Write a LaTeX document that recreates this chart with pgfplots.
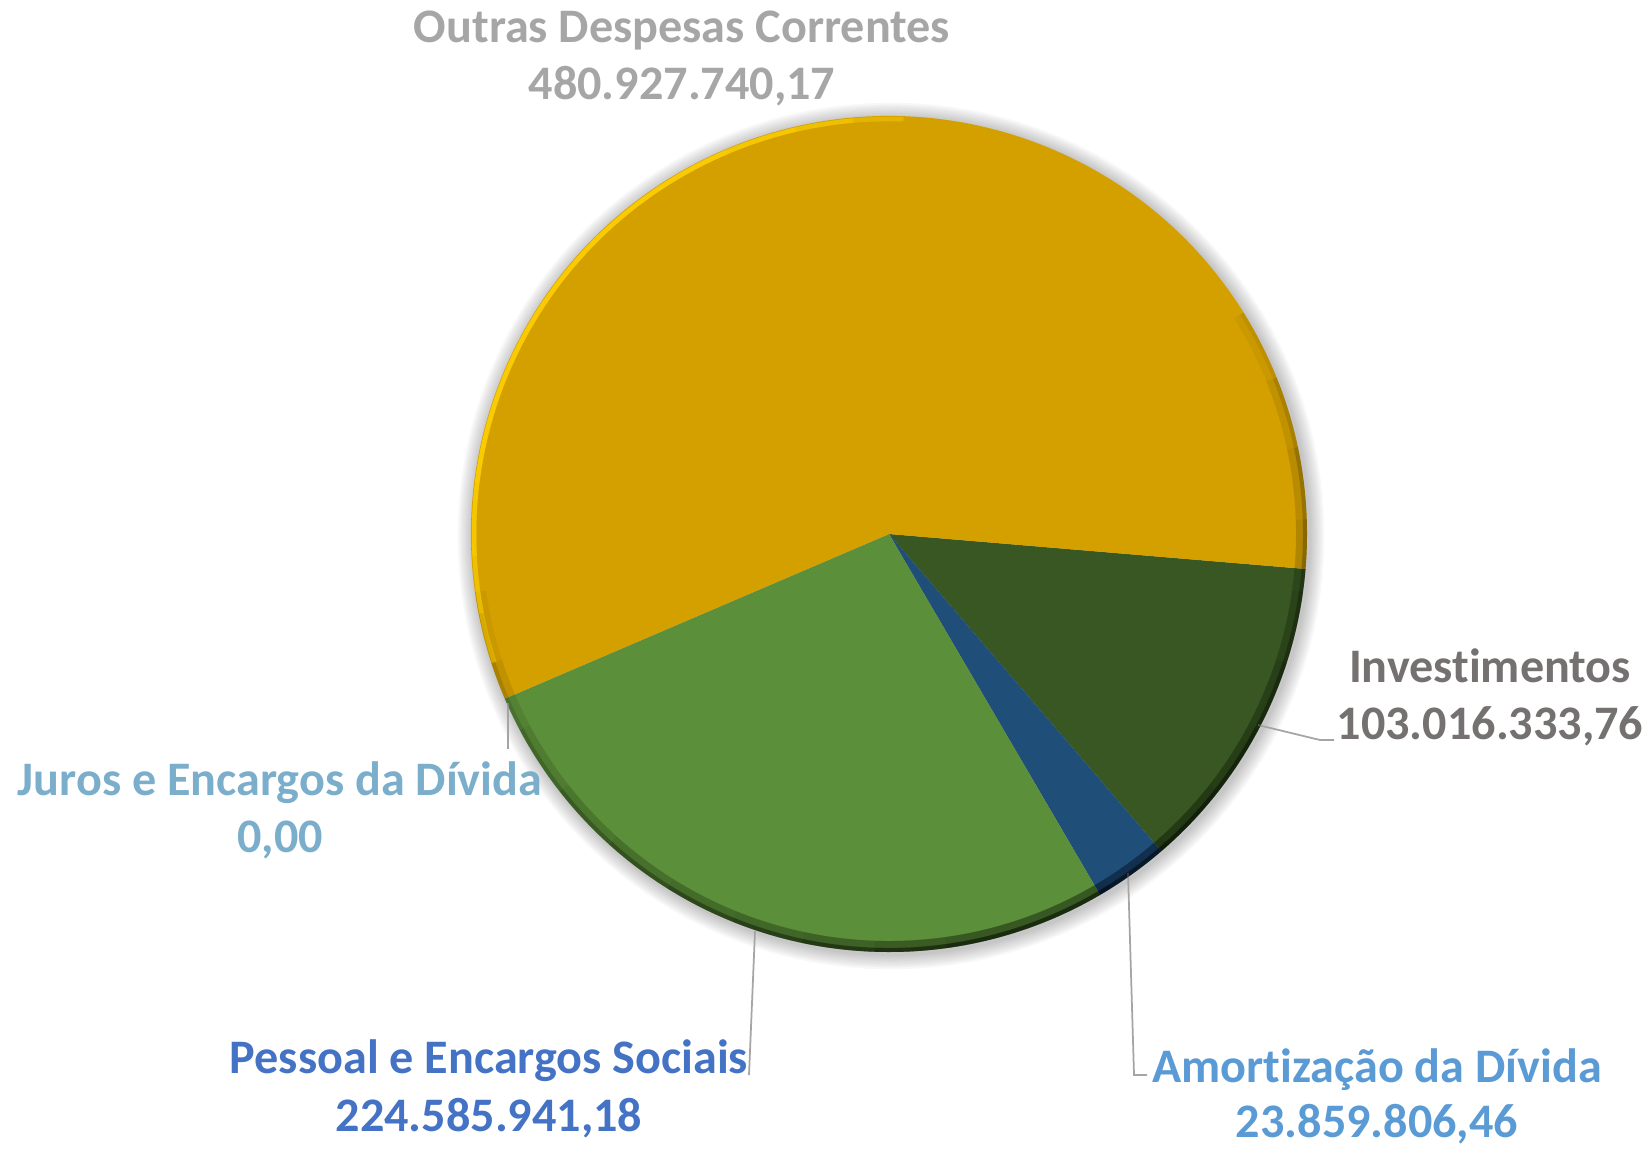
\documentclass[border=0pt]{standalone}
\usepackage{pgfplots}
\usepackage{pgfplotstable}
\pgfplotsset{compat=1.18}
\usepackage{fontspec}
\setmainfont{Carlito}[Ligatures=NoCommon]

\definecolor{cOut}{HTML}{D4A000}
\definecolor{cInv}{HTML}{385723}
\definecolor{cAmo}{HTML}{1F4E79}
\definecolor{cPes}{HTML}{5B8F3A}
\definecolor{cJur}{HTML}{7AAECB}
\definecolor{tOut}{HTML}{A6A6A6}
\definecolor{tInv}{HTML}{767171}
\definecolor{tJur}{HTML}{7AAECB}
\definecolor{tPes}{HTML}{4472C4}
\definecolor{tAmo}{HTML}{5B9BD5}
\definecolor{leader}{HTML}{A5A5A5}
\definecolor{hilite}{HTML}{FFD200}

\tikzset{lbl/.style={font=\fontsize{13.7}{16}\selectfont\bfseries, anchor=base}}

% slices in drawing order, clockwise from the Investimentos edge
\pgfplotstableread{
idx value color
0 103016333.76 cInv
1 23859806.46 cAmo
2 224585941.18 cPes
3 0.00 cJur
4 480927740.17 cOut
}\pietable

\pgfkeys{/pgf/fpu=true,/pgf/fpu/output format=fixed}
\gdef\tot{0}
\foreach \i in {0,...,4}{%
  \pgfplotstablegetelem{\i}{value}\of\pietable
  \pgfmathparse{\tot+\pgfplotsretval}\xdef\tot{\pgfmathresult}}
\gdef\acc{-4.8}
\foreach \i in {0,...,4}{%
  \pgfplotstablegetelem{\i}{value}\of\pietable
  \pgfmathparse{\acc-360*\pgfplotsretval/\tot}%
  \expandafter\xdef\csname sa\i\endcsname{\acc}%
  \expandafter\xdef\csname ea\i\endcsname{\pgfmathresult}%
  \xdef\acc{\pgfmathresult}%
  \pgfplotstablegetelem{\i}{color}\of\pietable
  \expandafter\xdef\csname col\i\endcsname{\pgfplotsretval}}
\pgfkeys{/pgf/fpu=false}

\def\R{4.18cm}

\begin{document}
\begin{tikzpicture}
\useasboundingbox (0,0) rectangle (16.49cm,11.48cm);
\begin{axis}[
  at={(0,0)}, anchor=south west,
  width=16.49cm, height=11.48cm, scale only axis,
  xmin=0, xmax=1649, ymin=0, ymax=1148,
  hide axis, clip=false,
]
  \coordinate (c) at (axis cs:889,614);
  % soft shadow
  \pgfplotsinvokeforeach{1,...,9}{
    \fill[black, opacity=0.028] (axis cs:891,612) circle[radius=\R+#1*0.17mm];
  }
  % slices
  \pgfplotsinvokeforeach{0,...,4}{
    \fill[\csname col#1\endcsname] (axis cs:889,614) -- ++(\csname sa#1\endcsname:\R)
      arc[start angle=\csname sa#1\endcsname, end angle=\csname ea#1\endcsname, radius=\R] -- cycle;
  }

  % leader lines
  \draw[leader, line width=0.5pt] (axis cs:508,445) -- (axis cs:508,399);
  \draw[leader, line width=0.5pt] (axis cs:755,217) -- (axis cs:749,73);
  \draw[leader, line width=0.5pt] (axis cs:1128,275) -- (axis cs:1134,73) -- (axis cs:1147,73);
  \draw[leader, line width=0.5pt] (axis cs:1258,423) -- (axis cs:1320,408) -- (axis cs:1334,408);

  % labels
  \node[lbl, tOut] at (axis cs:682,1105) {Outras Despesas Correntes};
  \node[lbl, tOut] at (axis cs:682,1048) {480.927.740,17};
  \node[lbl, tInv] at (axis cs:1490,466) {Investimentos};
  \node[lbl, tInv] at (axis cs:1490,409) {103.016.333,76};
  \node[lbl, tJur] at (axis cs:280,353) {Juros e Encargos da Dívida};
  \node[lbl, tJur] at (axis cs:280,296) {0,00};
  \node[lbl, tPes] at (axis cs:489,75) {Pessoal e Encargos Sociais};
  \node[lbl, tPes] at (axis cs:489,17) {224.585.941,18};
  \node[lbl, tAmo] at (axis cs:1377,66) {Amortização da Dívida};
  \node[lbl, tAmo] at (axis cs:1377,11) {23.859.806,46};
\end{axis}

% bevel of the pie edge: nested arcs, darker towards the lower right
\begin{scope}
  \clip (c) circle[radius=\R];
  \foreach \h in {12,22,...,102}{
    \draw[black, line width=2.2mm, draw opacity=0.045]
      ([shift={(-70-\h:\R)}]c) arc[start angle=-70-\h, end angle=-70+\h, radius=\R];
    \draw[black, line width=0.8mm, draw opacity=0.06]
      ([shift={(-70-\h:\R)}]c) arc[start angle=-70-\h, end angle=-70+\h, radius=\R];
  }
  \foreach \h in {30,40,48,55}{
    \draw[hilite, line width=0.45mm, draw opacity=0.4]
      ([shift={(143-\h:\R-0.3mm)}]c) arc[start angle=143-\h, end angle=143+\h, radius=\R-0.3mm];
  }
\end{scope}
\end{tikzpicture}
\end{document}
